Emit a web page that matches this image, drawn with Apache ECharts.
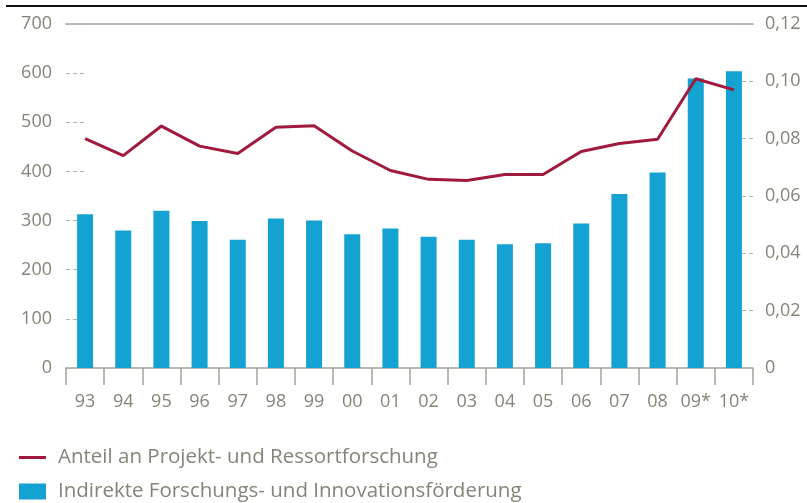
<!DOCTYPE html>
<html><head><meta charset="utf-8">
<script src="https://cdn.jsdelivr.net/npm/echarts@6/dist/echarts.min.js"></script>
<style>html,body{margin:0;padding:0;background:#fff}#c{width:807px;height:503px}</style>
</head><body><div id="c"></div>
<script>
const categories = ['93','94','95','96','97','98','99','00','01','02','03','04','05','06','07','08','09*','10*'];
const barValues = [313, 280, 320, 299, 261, 304, 300, 272, 284, 267, 261, 252, 254, 294, 354, 398, 589, 604];
const lineValues = [0.0800, 0.0741, 0.0844, 0.0774, 0.0748, 0.0840, 0.0845, 0.0757, 0.0689, 0.0658, 0.0654, 0.0675, 0.0675, 0.0755, 0.0783, 0.0798, 0.1009, 0.0970];
const leftTicks = [0, 100, 200, 300, 400, 500, 600, 700];
const rightTicks = [0, 0.02, 0.04, 0.06, 0.08, 0.10, 0.12];
const barName = 'Indirekte Forschungs- und Innovationsförderung';
const lineName = 'Anteil an Projekt- und Ressortforschung';

const txt = '#858476';
const axisCol = '#a3a295';
const font = 'Open Sans';
const chart = echarts.init(document.getElementById('c'));
chart.setOption({
  animation: false,
  textStyle: { fontFamily: font },
  graphic: [{ type: 'rect', shape: { x: 6, y: 5, width: 801, height: 2 }, style: { fill: '#111' } }],
  grid: { left: 66, right: 54, top: 24, bottom: 135 },
  legend: [
    { data: [lineName], left: 14, top: 442, orient: 'vertical', itemWidth: 27, itemHeight: 3, icon: 'rect',
      textStyle: { color: txt, fontSize: 20.5, fontFamily: font, padding: [0, 0, 0, 7] } },
    { data: [barName], left: 14, top: 476, orient: 'vertical', itemWidth: 27, itemHeight: 16, icon: 'rect',
      textStyle: { color: txt, fontSize: 20.5, fontFamily: font, padding: [0, 0, 0, 7] } }
  ],
  xAxis: [
    { type: 'category', data: categories, boundaryGap: true,
      axisLine: { lineStyle: { color: axisCol, width: 1.5 } },
      axisTick: { show: true, interval: 0, length: 17, lineStyle: { color: axisCol, width: 1.5 } },
      axisLabel: { color: txt, fontSize: 18, margin: 25, interval: 0, fontFamily: font } },
    { type: 'category', data: categories, position: 'top',
      axisLine: { show: true, onZero: false, lineStyle: { color: axisCol, width: 1.5 } },
      axisTick: { show: false }, axisLabel: { show: false } }
  ],
  yAxis: [
    { type: 'value', min: 0, max: 700, interval: 100,
      axisLine: { show: false }, splitLine: { show: false },
      axisTick: { show: true, inside: true, length: 18, lineStyle: { color: '#b5b4aa', type: [4, 3] } },
      axisLabel: { color: txt, fontSize: 18, margin: 14, fontFamily: font,
        formatter: v => leftTicks.includes(v) ? String(v) : '' } },
    { type: 'value', min: 0, max: 0.12, interval: 0.02, position: 'right',
      axisLine: { show: false }, splitLine: { show: false },
      axisTick: { show: true, inside: true, length: 18, lineStyle: { color: '#b5b4aa', type: [4, 3] } },
      axisLabel: { color: txt, fontSize: 18, margin: 12, fontFamily: font,
        formatter: v => { const t = rightTicks.find(r => Math.abs(r - v) < 1e-9); return t === undefined ? '' : (t === 0 ? '0' : t.toFixed(2).replace('.', ',')); } } }
  ],
  series: [
    { name: barName, type: 'bar', data: barValues, barWidth: 16, itemStyle: { color: '#13a2d1' } },
    { name: lineName, type: 'line', yAxisIndex: 1, data: lineValues, symbol: 'none',
      lineStyle: { color: '#a01a3c', width: 3 }, itemStyle: { color: '#a01a3c' } }
  ]
});
</script></body></html>
